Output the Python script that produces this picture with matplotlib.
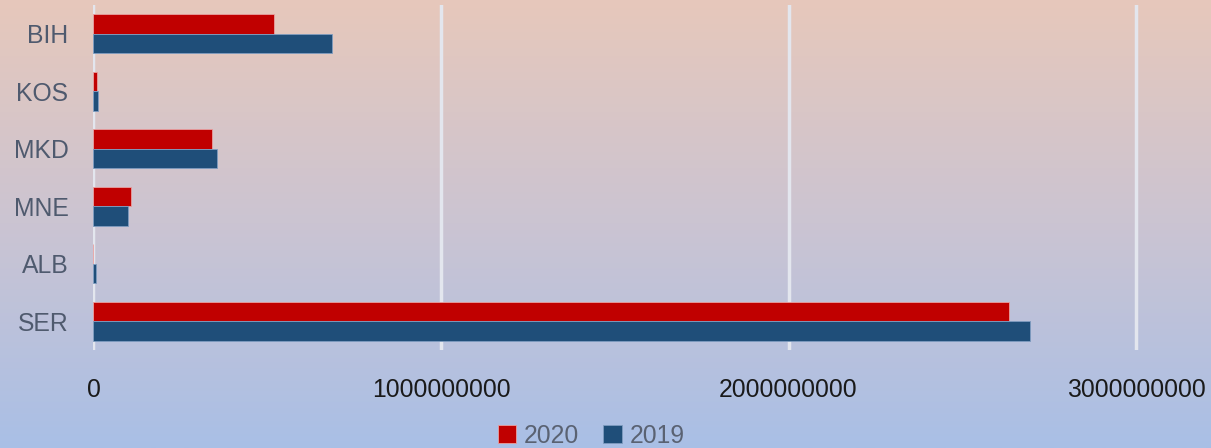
import numpy as np
import matplotlib
matplotlib.use("Agg")
from matplotlib import pyplot as plt
from matplotlib.colors import LinearSegmentedColormap

countries = ["BIH", "KOS", "MKD", "MNE", "ALB", "SER"]
values_2020 = [519000000, 9000000, 342000000, 107000000, 0, 2635000000]
values_2019 = [685000000, 14000000, 355000000, 98000000, 8000000, 2694000000]
xticks = [0, 1000000000, 2000000000, 3000000000]

red = "#c00000"
blue = "#1f4e79"
font = "Liberation Sans"

fig = plt.figure(figsize=(12.11, 4.48), dpi=100)

# background gradient, pink on top -> light blue at the bottom
bg = fig.add_axes([0, 0, 1, 1], zorder=-10)
cmap = LinearSegmentedColormap.from_list("bg", ["#e7c8bb", "#cbc4d2", "#a9bfe6"])
grad = np.linspace(0, 1, 256).reshape(-1, 1)
bg.imshow(grad, aspect="auto", cmap=cmap, extent=[0, 1, 0, 1])
bg.axis("off")

ax = fig.add_axes([93.5 / 1211, 1 - 350 / 448, 1 - 93.5 / 1211, 345 / 448])
ax.set_facecolor("none")

y = np.arange(len(countries))
h = 0.335
ax.barh(y - h / 2, values_2020, height=h, color=red, edgecolor="#e8a0a0",
        linewidth=0.6, label="2020", zorder=3)
ax.barh(y + h / 2, values_2019, height=h, color=blue, edgecolor="#7f9cc0",
        linewidth=0.6, label="2019", zorder=3)

ax.set_ylim(len(countries) - 0.5, -0.5)
ax.set_xlim(0, (1211 - 93.5) / 347.5 * 1e9)

ax.set_xticks(xticks)
ax.set_xticklabels([str(v) for v in xticks], fontsize=17.8, family=font, color="#1a1a1a")
ax.set_yticks(y)
ax.set_yticklabels(countries, fontsize=17.8, family=font, color="#4f5a6e")
ax.tick_params(axis="x", length=0, pad=20)
ax.tick_params(axis="y", length=0, pad=18)

ax.grid(axis="x", color="#e3e6ee", linewidth=2.5, zorder=1)
ax.grid(axis="y", visible=False)
for s in ax.spines.values():
    s.set_visible(False)

leg = fig.legend(loc="center", bbox_to_anchor=(0.488, 0.027), ncol=2, frameon=False,
                 handlelength=0.75, handleheight=0.75, handletextpad=0.3,
                 columnspacing=1.0, prop={"family": font, "size": 17.8})
for t in leg.get_texts():
    t.set_color("#5a6272")

fig.savefig("out.png", dpi=100)
